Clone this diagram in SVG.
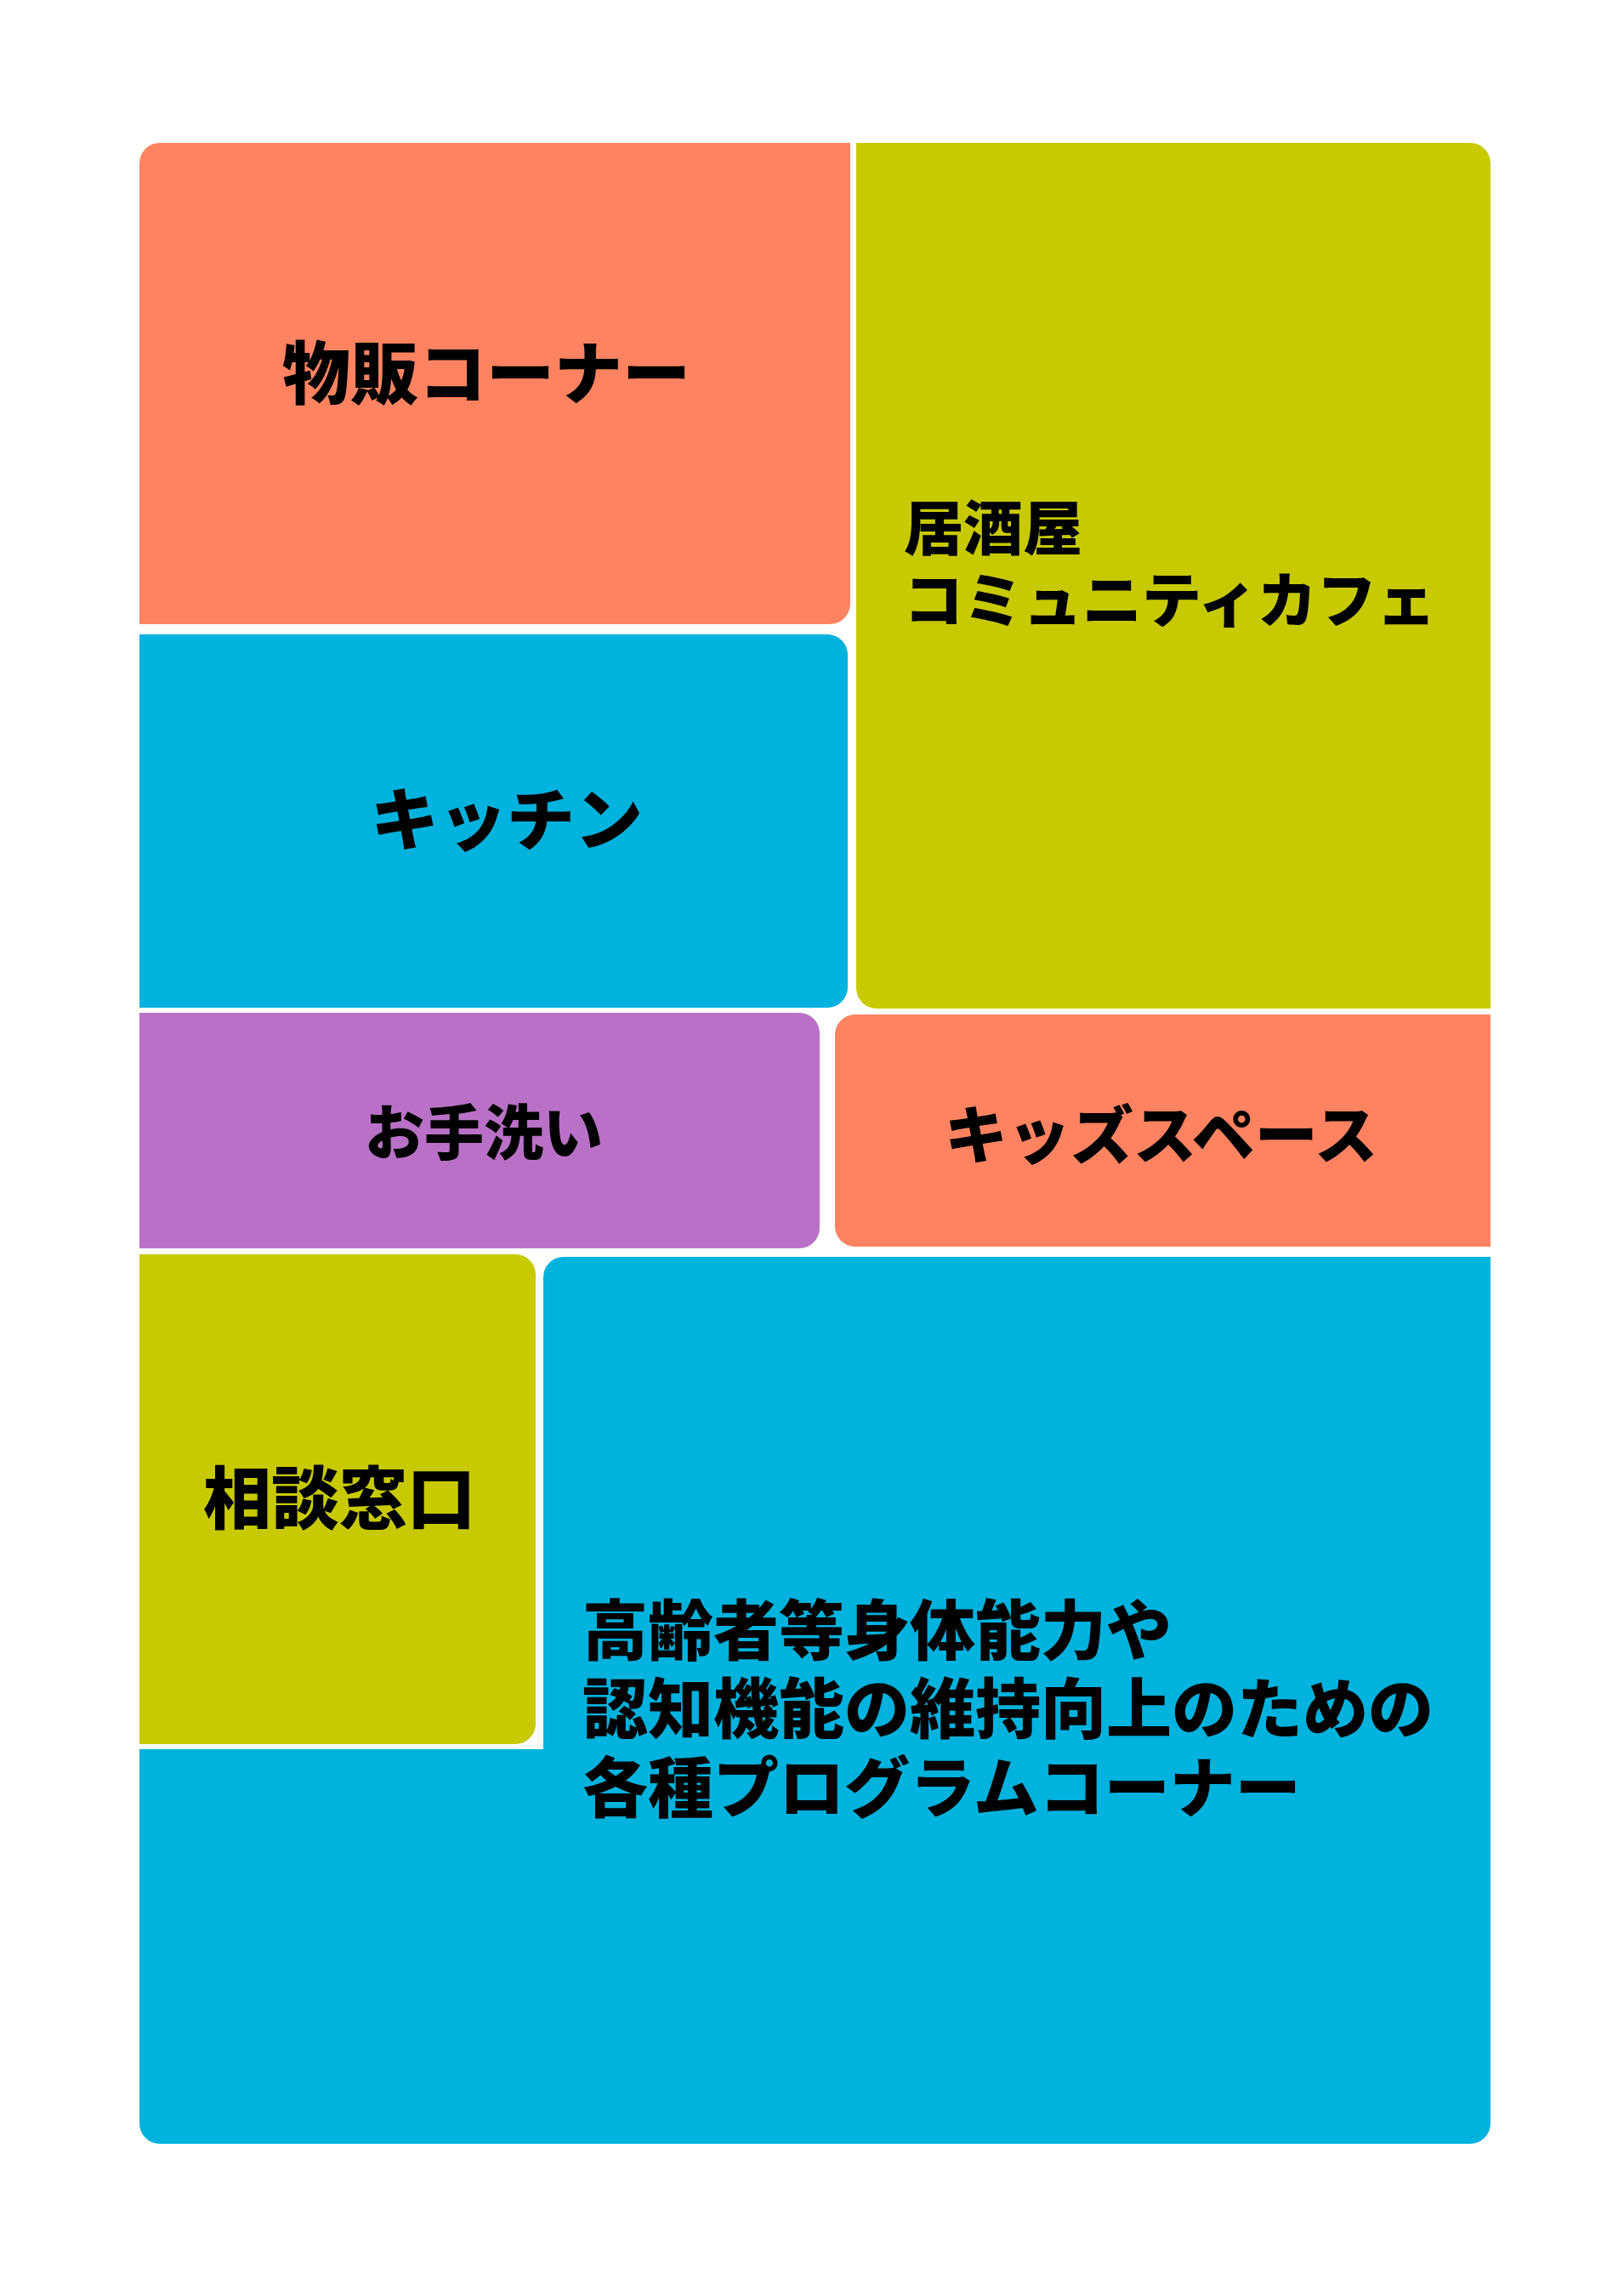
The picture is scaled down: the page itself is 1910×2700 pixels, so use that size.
<svg xmlns="http://www.w3.org/2000/svg" width="1910" height="2700" viewBox="0 0 1910 2700">
<style>
.orange{fill:#FF8361}
.lime{fill:#C8CA00}
.cyan{fill:#00B2DE}
.purple{fill:#B971C7}
.lbl{font-family:"Noto Sans CJK JP","Noto Sans CJK SC",sans-serif;font-weight:900;fill:#000}
</style>
<rect x="0" y="0" width="1910" height="2700" fill="#FFFFFF"/>
<g id="node-buppan">
<path class="orange" d="M164,734 V192 A24,24 0 0 1 188,168 H1000 V710 A24,24 0 0 1 976,734 Z"/>
<text class="lbl" x="332" y="468" font-size="80">物販コーナー</text>
</g>
<g id="node-izakaya">
<path class="lime" d="M1007,168 H1729 A24,24 0 0 1 1753,192 V1186 H1031 A24,24 0 0 1 1007,1162 Z"/>
<text class="lbl" font-size="70"><tspan x="1063" y="647">居酒屋</tspan><tspan x="1063" y="732">コミュニティカフェ</tspan></text>
</g>
<g id="node-kitchen">
<path class="cyan" d="M164,746 H973 A24,24 0 0 1 997,770 V1161 A24,24 0 0 1 973,1185 H164 Z"/>
<text class="lbl" x="436" y="993" font-size="80">キッチン</text>
</g>
<g id="node-otearai">
<path class="purple" d="M164,1191 H940 A24,24 0 0 1 964,1215 V1444 A24,24 0 0 1 940,1468 H164 Z"/>
<text class="lbl" x="429" y="1358" font-size="70">お手洗い</text>
</g>
<g id="node-kids">
<path class="orange" d="M1006,1193 H1753 V1466 H1006 A24,24 0 0 1 982,1442 V1217 A24,24 0 0 1 1006,1193 Z"/>
<text class="lbl" x="1111" y="1362" font-size="74">キッズスペース</text>
</g>
<g id="node-soudan">
<path class="lime" d="M164,1475 H606 A24,24 0 0 1 630,1499 V2027 A24,24 0 0 1 606,2051 H164 Z"/>
<text class="lbl" x="239" y="1791" font-size="80">相談窓口</text>
</g>
<g id="node-program">
<path class="cyan" d="M639,1502 A24,24 0 0 1 663,1478 H1753 V2497 A24,24 0 0 1 1729,2521 H188 A24,24 0 0 1 164,2497 V2057 H639 Z"/>
<text class="lbl" font-size="77"><tspan x="685" y="1946">高齢者等身体能力や</tspan><tspan x="685" y="2038">認知機能の維持向上のための</tspan><tspan x="685" y="2131">各種プログラムコーナー</tspan></text>
</g>
<g id="connectors"/>
</svg>
